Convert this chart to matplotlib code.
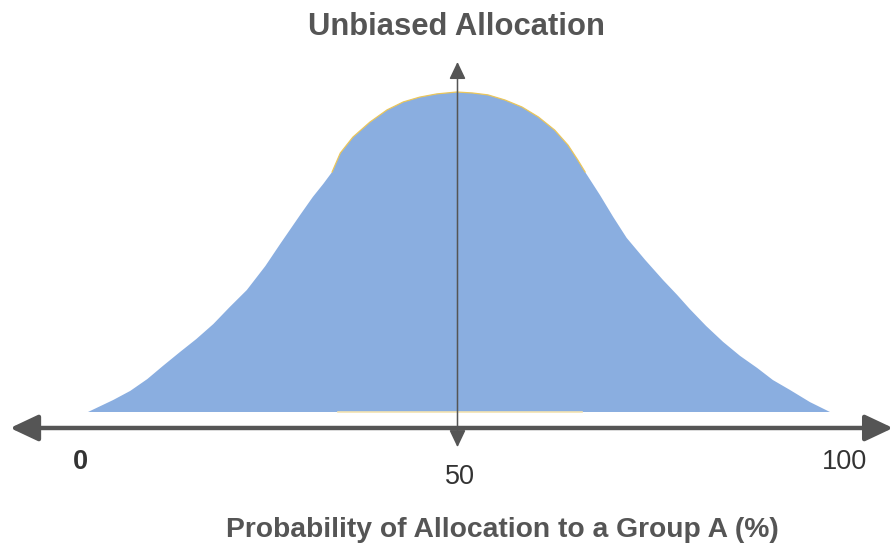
import numpy as np
import matplotlib
matplotlib.use('Agg')
import matplotlib.pyplot as plt

# outline of the bell shape (x in %, height relative to peak)
x_left = [0, 3.4, 5.7, 8.0, 10.1, 12.4, 14.6, 16.9, 19.1, 21.4, 23.9, 25.9, 28.6,
          30.3, 31.7, 32.9]
y_left = [0, 0.0375, 0.066, 0.103, 0.144, 0.1875, 0.228, 0.275, 0.328, 0.381, 0.456,
          0.525, 0.616, 0.672, 0.7125, 0.75]

x_arch = [32.9, 34.0, 35.7, 38.0, 40.3, 42.5, 44.7, 47.0, 49.7, 51.8, 53.9, 56.2,
          58.5, 60.7, 62.9, 64.7, 66.0, 67.0]
y_arch = [0.75, 0.809, 0.859, 0.906, 0.944, 0.969, 0.984, 0.994, 1.0, 0.997, 0.991,
          0.975, 0.953, 0.922, 0.881, 0.834, 0.788, 0.75]

x_right = [67.0, 69.0, 70.8, 72.6, 75.1, 77.5, 79.4, 81.1, 83.3, 85.6, 87.9, 90.2,
           92.3, 94.6, 97.3, 100]
y_right = [0.75, 0.678, 0.609, 0.544, 0.475, 0.4125, 0.366, 0.322, 0.269, 0.219,
           0.175, 0.1375, 0.10, 0.069, 0.031, 0]

tick_labels = ['0', '50', '100']
title = 'Unbiased Allocation'
xlabel = 'Probability of Allocation to a Group A (%)'

grey = '#555555'
blue = '#8AAEE0'
font = 'Liberation Sans'

fig = plt.figure(figsize=(8.94, 5.47), dpi=100)
ax = fig.add_axes([0, 0, 1, 1])
ax.set_xlim(-11.86, 108.63)
ax.set_ylim(-0.4219, 1.2875)
ax.axis('off')

xs = x_left + x_arch[1:] + x_right[1:]
ys = y_left + y_arch[1:] + y_right[1:]
ax.fill(xs, ys, color=blue, lw=0, zorder=1)
ax.plot(x_arch, y_arch, color='#EBC65A', lw=0.9, zorder=2)
ax.plot([33.7, 66.6], [0, 0], color='#F3E3B2', lw=1.2, zorder=2)

# horizontal double arrow
ax.annotate('', xy=(-10.5, -0.05), xytext=(108.5, -0.05),
            arrowprops=dict(arrowstyle='<|-|>,head_length=17,head_width=8',
                            mutation_scale=1, color=grey, lw=3.2,
                            shrinkA=0, shrinkB=0), zorder=3)
# vertical double arrow
ax.annotate('', xy=(49.8, -0.11), xytext=(49.8, 1.094),
            arrowprops=dict(arrowstyle='<|-|>,head_length=10.5,head_width=5',
                            mutation_scale=1, color=grey, lw=1.1,
                            shrinkA=0, shrinkB=0), zorder=3)

ax.text(-1.08, -0.156, tick_labels[0], ha='center', va='center', fontsize=19.5,
        fontweight='bold', color='#333333', family=font)
ax.text(50.1, -0.203, tick_labels[1], ha='center', va='center', fontsize=19.5,
        color='#333333', family=font)
ax.text(102.0, -0.156, tick_labels[2], ha='center', va='center', fontsize=19.5,
        color='#333333', family=font)

ax.text(49.7, 1.203, title, ha='center', va='center', fontsize=22.3,
        fontweight='bold', color=grey, family=font)
ax.text(55.9, -0.369, xlabel, ha='center', va='center', fontsize=20.3,
        fontweight='bold', color=grey, family=font)

fig.savefig('out.png', dpi=100)
